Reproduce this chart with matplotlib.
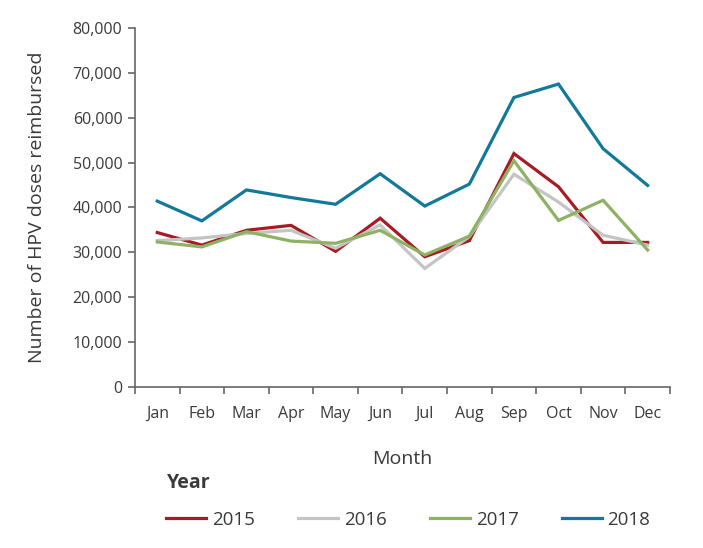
import matplotlib
matplotlib.use("Agg")
import matplotlib.pyplot as plt
from matplotlib.ticker import FuncFormatter

months = ["Jan", "Feb", "Mar", "Apr", "May", "Jun", "Jul", "Aug", "Sep", "Oct", "Nov", "Dec"]
y2015 = [34400, 31600, 34900, 36000, 30200, 37600, 29000, 32600, 52000, 44600, 32200, 32200]
y2016 = [32600, 33200, 34200, 34900, 30900, 36100, 26400, 33500, 47400, 41200, 33800, 31600]
y2017 = [32300, 31200, 34600, 32500, 32000, 34900, 29400, 33600, 50400, 37100, 41600, 30500]
y2018 = [41400, 37000, 43900, 42200, 40700, 47500, 40300, 45200, 64500, 67500, 53100, 44900]
years = ["2015", "2016", "2017", "2018"]
colors = ["#a51c24", "#c4c4c4", "#8db263", "#13799b"]

plt.rcParams['font.family'] = ['Open Sans', 'DejaVu Sans']
txt = "#3a3a3a"
fig = plt.figure(figsize=(7.03, 5.48), dpi=100)
ax = fig.add_axes([0.192, 0.294, 0.761, 0.655])

x = list(range(len(months)))
for vals, yr, c in zip([y2015, y2016, y2017, y2018], years, colors):
    ax.plot(x, vals, color=c, lw=2.3, label=yr, solid_joinstyle='miter')

ax.set_xlim(-0.5, 11.5)
ax.set_ylim(0, 80000)
ax.set_yticks(range(0, 80001, 10000))
ax.yaxis.set_major_formatter(FuncFormatter(lambda v, p: f"{int(v):,}"))
ax.set_xticks([i - 0.5 for i in range(13)])
ax.set_xticklabels([])
ax.set_xticks(x, minor=True)
ax.set_xticklabels(months, minor=True)
ax.tick_params(axis='x', which='minor', length=0, pad=14, labelsize=11.5, labelcolor=txt)
ax.tick_params(axis='x', which='major', length=5, color="#666666", width=1.2)
ax.tick_params(axis='y', length=5, color="#666666", width=1.2, labelsize=11.5, labelcolor=txt, pad=4)
for s in ['top', 'right']:
    ax.spines[s].set_visible(False)
for s in ['left', 'bottom']:
    ax.spines[s].set_color("#666666")
    ax.spines[s].set_linewidth(1.2)

ax.set_xlabel("Month", fontsize=14, color=txt, labelpad=20)
ax.set_ylabel("Number of HPV doses reimbursed", fontsize=14, color=txt, labelpad=19)

fig.text(167 / 703, 1 - 483 / 548, "Year", fontsize=14, fontweight='bold', color=txt,
         ha='left', va='center')
leg = fig.legend(loc='center left', bbox_to_anchor=(166 / 703, 1 - 520 / 548), ncol=4, frameon=False,
                 fontsize=13.5, handlelength=2.15, handletextpad=0.3,
                 columnspacing=2.3, borderaxespad=0, borderpad=0)
for t in leg.get_texts():
    t.set_color(txt)

fig.savefig("out.png", dpi=100)
